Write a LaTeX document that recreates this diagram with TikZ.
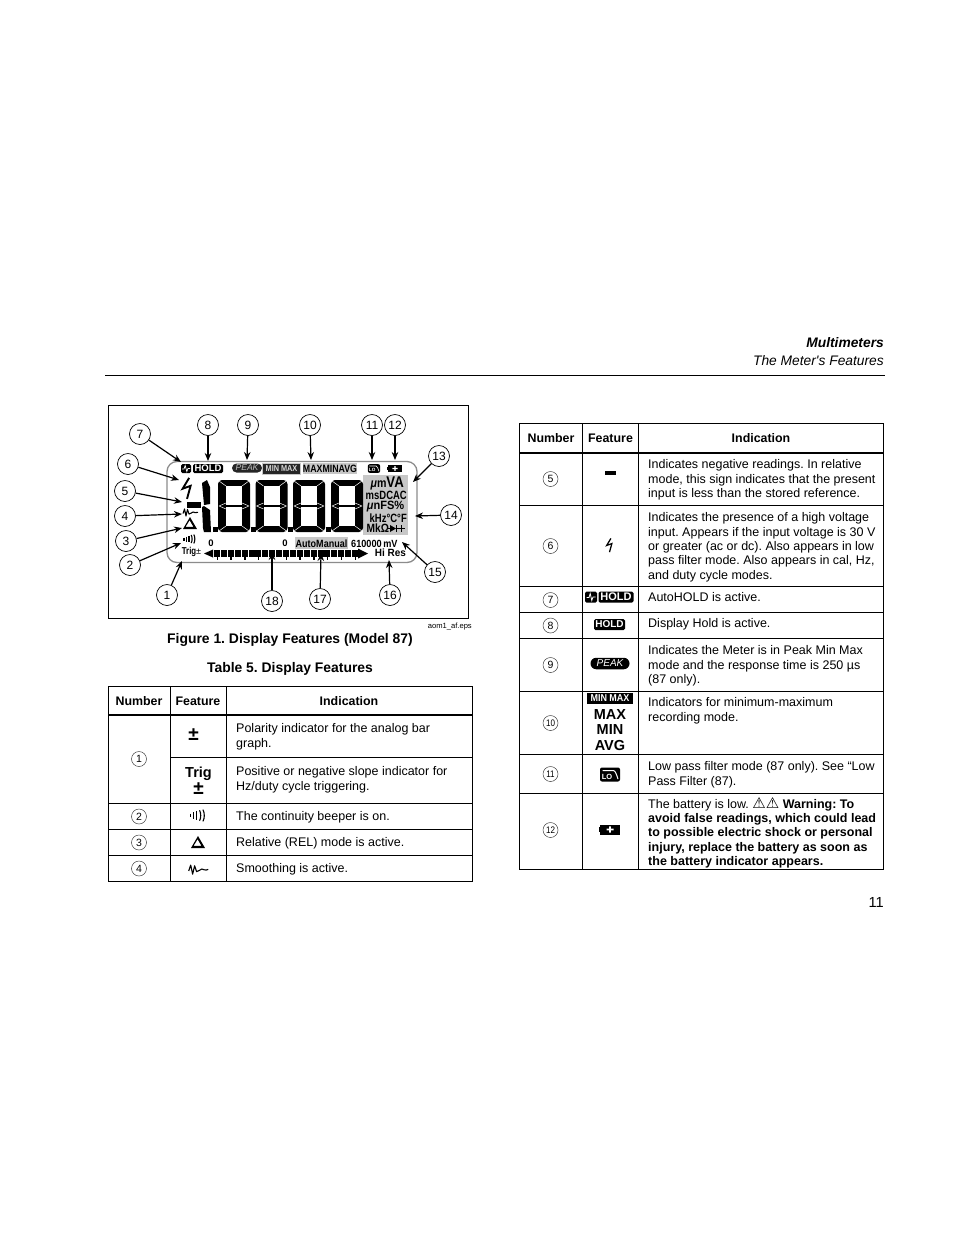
\documentclass[tikz,border=0pt]{standalone}
\usepackage{fontspec}
\usepackage{graphicx}
\setmainfont{Liberation Sans}
\newfontfamily\plainfont{Liberation Sans}
\newfontfamily\symfont{DejaVu Sans}
\usetikzlibrary{arrows.meta,shapes.geometric,shapes.misc}
\definecolor{lcdgray}{gray}{0.78}
\definecolor{framegray}{gray}{0.55}
\newcommand{\fs}[2]{\fontsize{#1}{#2}\selectfont}
\newcommand{\nar}[2]{\scalebox{#1}[1]{#2}}
\frenchspacing
\tikzset{
  callout/.style={draw=black,circle,fill=white,line width=0.7pt,minimum size=21pt,inner sep=0pt,font=\fs{12}{14}},
  callarrow/.style={draw=black,line width=1.2pt,-{Stealth[length=8pt,width=6.5pt]}},
  numcirc/.style={draw=black!75,circle,line width=0.5pt,minimum size=15pt,inner sep=0pt,font=\fs{10.5}{12}},
  rowtext/.style={anchor=north west,align=left,inner sep=0pt,yshift=-1.7pt,font=\fs{12.5}{14.3}},
  headtext/.style={font=\bfseries\fs{12.4}{15},inner sep=0pt},
  gridline/.style={draw=black,line width=0.8pt},
  thickrule/.style={draw=black,line width=2pt},
  captext/.style={font=\bfseries\fs{13.9}{16},inner sep=0pt},
  lcd/.style={font=\bfseries\fs{10}{12},inner sep=0pt},
  badge/.style={fill=black,rounded corners=1.5pt,text=white,font=\bfseries\fs{9.5}{11},inner sep=0pt,align=center},
  panel/.style={font=\bfseries\fs{12}{13},inner sep=0pt,anchor=east},
  pill/.style={fill=black,rounded rectangle,inner sep=0pt}
}
\newcommand{\lcddigit}[1]{%
\begin{scope}[shift={(#1,480)}]
 \fill[rounded corners=4pt] (0,0) rectangle (32,52);
 \fill[white] (8,6) rectangle (24,46);
 \draw[line width=1.5pt] (8,26) -- (24,26);
 \draw[white,line width=0.5pt] (1,26) -- (8,23) (1,26) -- (8,29) (31,26) -- (24,23) (31,26) -- (24,29)
   (1,1) -- (8,6) (31,1) -- (24,6) (1,51) -- (8,46) (31,51) -- (24,46);
 \fill (-5,47) rectangle (0,52);
\end{scope}}
\newcommand{\boltshape}[3]{%
\begin{scope}[shift={(#1,#2)},scale=#3]
 \draw[line width=#3*1.3pt,line join=miter] (1.5,-7) -- (-3,0.5) -- (2.5,-1.5) -- (0,7.5);
\end{scope}}
\newcommand{\waveshape}[3]{%
\begin{scope}[shift={(#1,#2)},scale=#3]
 \draw[line width=1.1pt,line join=round] (-7.5,1.5) -- (-6,-3) -- (-4.5,4) -- (-3,-2.5) -- (-1.5,2) .. controls (0,2.5) and (1,0) .. (2.5,0) .. controls (4,0) and (5,1.6) .. (7.5,0.3);
\end{scope}}
\newcommand{\beepshape}[3]{%
\begin{scope}[shift={(#1,#2)},scale=#3]
 \draw[line width=1.1pt] (-6,-1.5) -- (-6,1.5) (-3.5,-2.5) -- (-3.5,2.5) (-1,-3.2) -- (-1,3.2);
 \draw[line width=1.1pt] (1.2,-4) .. controls (2.4,-2) and (2.4,2) .. (1.2,4);
 \draw[line width=1.1pt] (3.8,-4.5) .. controls (5.2,-2) and (5.2,2) .. (3.8,4.5);
\end{scope}}
\newcommand{\deltashape}[3]{%
\begin{scope}[shift={(#1,#2)},scale=#3]
 \fill[even odd rule] (0,-6) -- (7,6) -- (-7,6) -- cycle (-0.4,-2.8) -- (3.4,3.8) -- (-4.4,3.8) -- cycle;
\end{scope}}
\newcommand{\loshape}[3]{%
\begin{scope}[shift={(#1,#2)},scale=#3]
 \fill[rounded corners=2pt] (-10,-7) rectangle (10,7);
 \draw[white,line width=#3*1pt] (-7.5,-4) -- (3.5,-4) .. controls (5.5,-3.5) and (6.5,0) .. (8,4.5);
 \node[text=white,font=\bfseries\fs{7.5}{8},inner sep=0pt,scale=#3] at (-3,2.5) {LO};
\end{scope}}
\newcommand{\battshape}[3]{%
\begin{scope}[shift={(#1,#2)},scale=#3]
 \fill (-10,-5) rectangle (10,5);
 \fill (-11.5,-2.5) rectangle (-10,2.5);
 \fill[white] (-3.5,-0.8) rectangle (3.5,0.8) (-0.8,-3.2) rectangle (0.8,3.2);
\end{scope}}
\begin{document}
\begin{tikzpicture}[x=1pt,y=-1pt]
\useasboundingbox (0,0) rectangle (954,1235);
\fill[white] (0,0) rectangle (954,1235);

% running head
\node[anchor=base east,inner sep=0pt,font=\bfseries\itshape\fs{13.8}{16}] (h1) at (884,347) {Multimeters};
\node[anchor=base east,inner sep=0pt,font=\plainfont\itshape\fs{13.8}{16}] (h2) at (884,365) {The Meter's Features};
\draw[line width=0.8pt] (105,375) -- (885,375);
\node[anchor=base east,inner sep=0pt,font=\fs{14.6}{16}] (pg) at (884,907) {11};

% figure box
\draw[line width=0.8pt] (108.5,405.5) rectangle (468.5,618.5);
\node[anchor=base east,inner sep=0pt,font=\fs{7.6}{9}] (eps) at (472,628) {aom1\_af.eps};
\node[captext] (figcap) at (290,640) {Figure 1. Display Features (Model 87)};
\node[captext] (tabcap) at (290,669) {Table 5. Display Features};

% display outline
\draw[framegray,line width=1.3pt,rounded corners=10pt] (167,461.5) rectangle (417,562.5);

% panels
\fill[lcdgray] (363,475) rectangle (408,535);
\fill[lcdgray] (295,537) rectangle (348,549);
\fill[lcdgray] (303,463) rectangle (357,474);

% top indicators
\node[badge,minimum width=10pt,minimum height=9pt] (ah) at (186,468.5) {};
\begin{scope}[shift={(186,468.5)}]\draw[white,line width=0.7pt] (-4,0.5) -- (-2,0.5) -- (-0.8,-3) -- (0.8,3) -- (2,0) -- (4,0);\end{scope}
\node[badge,minimum width=30pt,minimum height=9pt] (hd) at (208,468.5) {HOLD};
\node[pill,fill=black!85,minimum width=30pt,minimum height=9pt] (pkbg) at (247,468) {};
\node[text=white!75!black,font=\itshape\fs{8.6}{10},inner sep=0pt] (pk) at (247,468) {PEAK};
\fill[lcdgray] (262,462.5) rectangle (301,474.5);
\node[fill=black!85,minimum width=37pt,minimum height=10pt,inner sep=0pt,text=white!85!black,font=\bfseries\fs{8.6}{10}] (mm) at (281.5,468.5) {\nar{.85}{MIN MAX}};
\node[lcd,font=\bfseries\fs{10.6}{12}] (mma) at (330,468.5) {\nar{.83}{MAXMINAVG}};
\loshape{374}{468.5}{0.62}
\battshape{395}{468.5}{0.72}

% digits
\lcddigit{218}
\lcddigit{255.5}
\lcddigit{293}
\lcddigit{331}
% leading 1 and minus
\fill (202,483) -- (207,480) -- (210,487) -- (210,504) -- (204,505) -- cycle;
\fill (202,507) -- (204,506) -- (210,510) -- (211,532) -- (204,532) -- (203,528) -- cycle;
\fill (187,502) rectangle (201,507.5);

% left icons
\boltshape{187}{488}{1.45}
\waveshape{190.5}{512}{1}
\deltashape{190}{523}{1}
\beepshape{190}{539}{1}

% lower texts
\node[lcd] (tr) at (191.5,552) {\nar{.78}{Trig}\normalfont\fs{9}{10}±};
\node[lcd,font=\bfseries\fs{9.5}{11}] (z1) at (211,543) {0};
\node[lcd,font=\bfseries\fs{9.5}{11}] (z2) at (285,543) {0};
\node[lcd,font=\bfseries\fs{10.5}{12}] (am) at (321.5,543.5) {\nar{.86}{AutoManual}};
\node[lcd,anchor=west,font=\bfseries\fs{10.4}{12}] (rng) at (351,543.5) {\nar{.88}{610000\,mV}};
\node[lcd,font=\bfseries\fs{10.5}{12}] (hr) at (390.5,552.5) {\nar{.95}{Hi Res}};

% bar graph
\fill (204,553.5) -- (213,549.5) -- (213,557.5) -- cycle;
\fill (368,553.5) -- (358,548.5) -- (358,558.5) -- cycle;
\foreach \k in {0,...,20}{\fill (214+\k*6.9,550) rectangle ++(6,7);}
\foreach \k in {0,2,...,20}{\fill (216.5+\k*6.9,557) rectangle ++(1.4,3);}

% unit panel
\node[panel] (p1) at (404,483.5) {\nar{.85}{\fs{12.5}{14}\itshape μ\upshape m}\nar{.85}{\fs{15.5}{16}VA}};
\node[panel] (p2) at (407,495.5) {\nar{.79}{msDCAC}};
\node[panel] (p3) at (404.5,507) {\nar{.92}{\itshape μ\upshape nFS\%}};
\node[panel] (p4) at (407,518) {\nar{.79}{kHz°C°F}};
\node[panel,anchor=west] (p5) at (366.5,528.5) {\nar{.85}{MkΩ}};
\fill (396,528.5) -- (390,525) -- (390,532) -- cycle;
\draw[line width=0.9pt] (388,528.5) -- (390,528.5) (396,525) -- (396,532) (396,528.5) -- (405,528.5) (401,525) -- (401,532);

% callouts
\foreach \n/\x/\y/\a/\b in {7/140/434/181/462,8/208/425/208/461,9/248/425/247/460,10/310/425/311/460,11/372/425/372/460,12/395/425/395/460,13/439/456/413/482,6/128/464/179/480,5/125/491/182/502,4/125/516/182/514,3/126/541/182/528,2/130/565/181/543,1/167/595/182/561,18/272/601/272/552,17/320/599/321/553,16/390/595/389/560,15/435/572/402/542,14/451/515/415/516}{
  \node[callout] (c\n) at (\x,\y) {\n};
  \coordinate (t\n) at (\a,\b);
  \draw[callarrow] (c\n) -- (t\n);
}

% left table
\draw[gridline] (108,686) rectangle (472,881.5);
\draw[gridline] (170,686) -- (170,881.5) (226,686) -- (226,881.5);
\draw[thickrule] (108,714.5) -- (472,714.5);
\draw[gridline] (170,757) -- (472,757);
\draw[gridline] (108,803) -- (472,803) (108,829) -- (472,829) (108,855) -- (472,855);
\node[headtext] (l1) at (139,701) {Number};
\node[headtext] (l2) at (198,701) {Feature};
\node[headtext] (l3) at (349,701) {Indication};
\node[numcirc] (n1) at (139,759) {1};
\node[numcirc] (n2) at (139,816.5) {2};
\node[numcirc] (n3) at (139,842.5) {3};
\node[numcirc] (n4) at (139,868.5) {4};
\node[font=\bfseries\fs{19}{20},inner sep=0pt] (f1) at (193.5,735) {±};
\node[font=\bfseries\fs{14.5}{16},inner sep=0pt] (f1b) at (198.5,774) {Trig};
\node[font=\bfseries\fs{19}{20},inner sep=0pt] (f1c) at (198.5,789) {±};
\beepshape{198}{815.5}{1.3}
\deltashape{198}{842}{1}
\waveshape{198.5}{869}{1.3}
\node[rowtext] (t1) at (236,722) {Polarity indicator for the analog bar\\graph.};
\node[rowtext] (t1b) at (236,765) {Positive or negative slope indicator for\\Hz/duty cycle triggering.};
\node[rowtext] (t2) at (236,810) {The continuity beeper is on.};
\node[rowtext] (t3) at (236,836) {Relative (REL) mode is active.};
\node[rowtext] (t4) at (236,862) {Smoothing is active.};

% right table
\draw[gridline] (519.5,423) rectangle (883.5,869.5);
\draw[gridline] (582,423) -- (582,869.5) (638.5,423) -- (638.5,869.5);
\draw[thickrule] (519.5,452.5) -- (883.5,452.5);
\foreach \yy in {505.5,586.5,612.5,638.5,691.5,754.5,793.5}{\draw[gridline] (519.5,\yy) -- (883.5,\yy);}
\node[headtext] (r1) at (551,438) {Number};
\node[headtext] (r2) at (610.5,438) {Feature};
\node[headtext] (r3) at (761,438) {Indication};
\node[numcirc] (n5) at (550.5,479) {5};
\node[numcirc] (n6) at (550.5,546) {6};
\node[numcirc] (n7) at (550.5,600) {7};
\node[numcirc] (n8) at (550.5,625.5) {8};
\node[numcirc] (n9) at (550.5,665) {9};
\node[numcirc,font=\fs{9.5}{11}] (n10) at (550.5,723) {\nar{.85}{10}};
\node[numcirc,font=\fs{9.5}{11}] (n11) at (550.5,774) {\nar{.85}{11}};
\node[numcirc,font=\fs{9.5}{11}] (n12) at (550.5,830) {\nar{.85}{12}};
\fill (605,471) rectangle (615.5,475);
\boltshape{609.5}{545}{0.95}
\node[badge,minimum width=12pt,minimum height=11pt] (ah2) at (591,597) {};
\begin{scope}[shift={(591,597)}]\draw[white,line width=0.8pt] (-4.5,0.5) -- (-2,0.5) -- (-0.8,-3.5) -- (0.8,3.5) -- (2,0) -- (4.5,0);\end{scope}
\node[badge,minimum width=35pt,minimum height=11pt,font=\bfseries\fs{11}{12}] (hd2) at (616,597) {HOLD};
\node[badge,minimum width=31pt,minimum height=11pt,font=\bfseries\fs{10}{12}] (hd3) at (609.5,624.5) {HOLD};
\node[pill,minimum width=39pt,minimum height=11.5pt] (pk2bg) at (610,663.5) {};
\node[text=white,font=\itshape\fs{10}{12},inner sep=0pt] (pk2) at (610,663.5) {PEAK};
\node[fill=black,minimum width=46pt,minimum height=11pt,inner sep=0pt,text=white,font=\bfseries\fs{10}{12}] (mm2) at (610,698.5) {\nar{.9}{MIN MAX}};
\node[font=\bfseries\fs{14.5}{16},inner sep=0pt] (f10a) at (610,714.5) {MAX};
\node[font=\bfseries\fs{14.5}{16},inner sep=0pt] (f10b) at (610,730) {MIN};
\node[font=\bfseries\fs{14.5}{16},inner sep=0pt] (f10c) at (610,745.5) {AVG};
\loshape{610}{774.5}{1}
\battshape{610}{829.5}{1}
\node[rowtext] (t5) at (648,458) {Indicates negative readings. In relative\\mode, this sign indicates that the present\\input is less than the stored reference.};
\node[rowtext] (t6) at (648,511) {Indicates the presence of a high voltage\\input. Appears if the input voltage is 30 V\\or greater (ac or dc). Also appears in low\\pass filter mode. Also appears in cal, Hz,\\and duty cycle modes.};
\node[rowtext] (t7x) at (648,591) {AutoHOLD is active.};
\node[rowtext] (t8x) at (648,617) {Display Hold is active.};
\node[rowtext] (t9x) at (648,644) {Indicates the Meter is in Peak Min Max\\mode and the response time is 250 µs\\(87 only).};
\node[rowtext] (t10x) at (648,696) {Indicators for minimum-maximum\\recording mode.};
\node[rowtext] (t11x) at (648,760) {Low pass filter mode (87 only). See “Low\\Pass Filter (87).};
\node[rowtext,yshift=0.7pt] (t12x) at (648,798) {The battery is low. \smash{\symfont\fs{15}{14.3}⚠⚠} \textbf{Warning: To}\\\textbf{avoid false readings, which could lead}\\\textbf{to possible electric shock or personal}\\\textbf{injury, replace the battery as soon as}\\\textbf{the battery indicator appears.}};
\end{tikzpicture}
\end{document}
